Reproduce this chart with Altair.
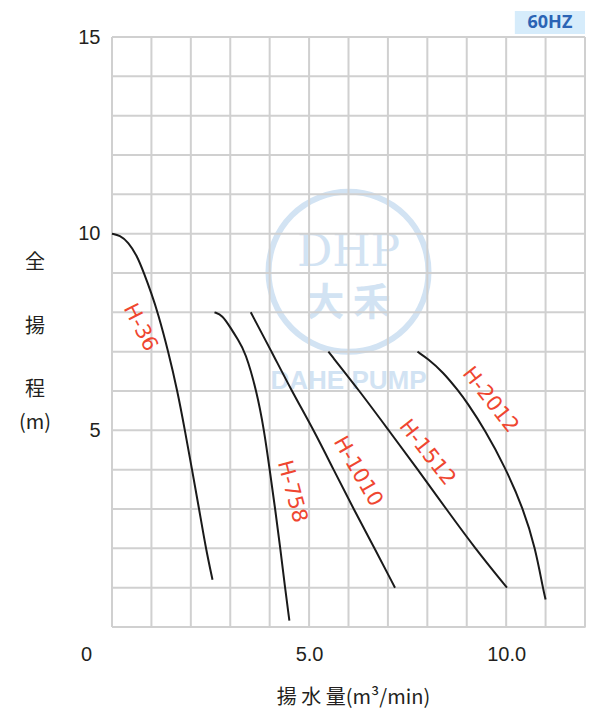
import altair as alt
import pandas as pd

# ---- data ----
h36_x = [0.0, 0.2, 0.41, 0.63, 0.81, 1.0, 1.16, 1.43, 1.66, 1.85, 2.03, 2.21, 2.38, 2.55]
h36_y = [10.0, 9.96, 9.79, 9.45, 9.0, 8.48, 8.0, 7.0, 6.0, 5.0, 4.0, 3.0, 2.0, 1.2]

h758_x = [2.6, 2.8, 3.0, 3.2, 3.38, 3.67, 3.86, 4.0, 4.14, 4.27, 4.39, 4.5]
h758_y = [8.0, 7.93, 7.62, 7.3, 7.0, 6.0, 5.0, 4.0, 3.0, 2.0, 1.0, 0.16]

h1010_x = [3.52, 4.05, 4.56, 5.12, 5.62, 6.13, 6.66, 7.18]
h1010_y = [8.0, 7.0, 6.0, 5.0, 4.0, 3.0, 2.0, 1.0]

h1512_x = [5.49, 6.28, 7.02, 7.76, 8.48, 9.21, 10.02]
h1512_y = [7.0, 6.0, 5.0, 4.0, 3.0, 2.0, 1.0]

h2012_x = [7.75, 8.0, 8.4, 8.79, 9.0, 9.47, 9.97, 10.44, 10.74, 10.93, 11.0]
h2012_y = [7.0, 6.83, 6.48, 6.0, 5.72, 5.0, 4.07, 3.0, 2.0, 1.0, 0.7]

label_names = ["H-36", "H-758", "H-1010", "H-1512", "H-2012"]
label_x = [0.71, 4.56, 6.23, 7.99, 9.59]
label_y = [7.61, 3.44, 3.95, 4.43, 5.77]
label_angle = [63, 75, 60, 52, 52]

grid_x = list(range(0, 13))
grid_y = list(range(0, 16))
x_ticks = [0, 5, 10]
y_ticks = [5, 10, 15]

y_title_parts = ["全", "揚", "程", "(m)"]
y_title_pos = [9.25, 7.63, 6.03, 5.19]

hz_text = "60HZ"
hz_x0, hz_x1 = 10.22, 12.0

# ---- tables ----
curves = pd.concat([
    pd.DataFrame({"model": "H-36", "x": h36_x, "y": h36_y}),
    pd.DataFrame({"model": "H-758", "x": h758_x, "y": h758_y}),
    pd.DataFrame({"model": "H-1010", "x": h1010_x, "y": h1010_y}),
    pd.DataFrame({"model": "H-1512", "x": h1512_x, "y": h1512_y}),
    pd.DataFrame({"model": "H-2012", "x": h2012_x, "y": h2012_y}),
], ignore_index=True)
labels = pd.DataFrame({"name": label_names, "x": label_x, "y": label_y, "angle": label_angle})
gx = pd.DataFrame({"x": grid_x})
gy = pd.DataFrame({"y": grid_y})
ytitle = pd.DataFrame({"t": y_title_parts, "y": y_title_pos})
wm = pd.DataFrame({"x": [6.0], "y": [9.03], "y_dhp": [9.5], "y_cn": [8.2], "y_en": [6.25]})
hz = pd.DataFrame({"x0": [hz_x0], "x1": [hz_x1], "xm": [(hz_x0 + hz_x1) / 2], "t": [hz_text]})

xs = alt.Scale(domain=[0, 12], nice=False, zero=False)
ys = alt.Scale(domain=[0, 15], nice=False, zero=False)

xaxis = alt.Axis(
    values=x_ticks, grid=False, domain=False, ticks=False,
    labelExpr="datum.value == 0 ? '0' : format(datum.value, '.1f')",
    labelOffset=alt.condition("datum.value == 0", alt.value(-26), alt.value(0)),
    labelFont="Liberation Sans", labelFontSize=20, labelColor="#231f20",
    labelPadding=17, labelFlush=False,
    title="揚 水 量(m³/min)", titleFont="Noto Sans CJK JP", titleFontSize=20,
    titleFontWeight="normal", titleColor="#231f20",
    titleX=241, titleY=70, titleBaseline="middle", titleAlign="center",
)
yaxis = alt.Axis(
    values=y_ticks, grid=False, domain=False, ticks=False,
    labelFont="Liberation Sans", labelFontSize=20, labelColor="#231f20",
    labelPadding=12, labelFlush=False, title="",
)

wm_color = "#d2e3f3"
ring = alt.Chart(wm).mark_point(shape="circle", filled=False, size=25600, strokeWidth=6,
                                color=wm_color, opacity=1).encode(
    x=alt.X("x:Q", scale=xs, axis=xaxis), y=alt.Y("y:Q", scale=ys, axis=yaxis))
dhp = alt.Chart(wm).mark_text(text="DHP", font="DejaVu Serif", fontSize=44, color=wm_color,
                              baseline="middle").encode(
    x=alt.X("x:Q", scale=xs, axis=xaxis), y=alt.Y("y_dhp:Q", scale=ys, axis=yaxis))
cn = alt.Chart(wm).mark_text(text="大 禾", font="Noto Sans CJK SC", fontSize=38, color=wm_color,
                             baseline="middle", fontWeight="bold").encode(
    x=alt.X("x:Q", scale=xs, axis=xaxis), y=alt.Y("y_cn:Q", scale=ys, axis=yaxis))
en = alt.Chart(wm).mark_text(text="DAHE PUMP", font="Liberation Sans", fontSize=26, color=wm_color,
                             baseline="middle", fontWeight="bold").encode(
    x=alt.X("x:Q", scale=xs, axis=xaxis), y=alt.Y("y_en:Q", scale=ys, axis=yaxis))

grid_color = "#d0d0d0"
vgrid = alt.Chart(gx).mark_rule(color=grid_color, strokeWidth=2).encode(
    x=alt.X("x:Q", scale=xs, axis=xaxis))
hgrid = alt.Chart(gy).mark_rule(color=grid_color, strokeWidth=2).encode(
    y=alt.Y("y:Q", scale=ys, axis=yaxis))

lines = alt.Chart(curves).mark_line(color="#1a1a1a", strokeWidth=2, interpolate="basis").encode(
    x=alt.X("x:Q", scale=xs, axis=xaxis), y=alt.Y("y:Q", scale=ys, axis=yaxis),
    detail="model:N")

names = alt.Chart(labels).mark_text(font="DejaVu Sans", fontSize=21, color="#ef4630",
                                    baseline="middle", align="center").encode(
    x=alt.X("x:Q", scale=xs, axis=xaxis), y=alt.Y("y:Q", scale=ys, axis=yaxis),
    text="name:N", angle=alt.Angle("angle:Q", scale=None))

ytitle_marks = alt.Chart(ytitle).mark_text(font="Noto Sans CJK JP", fontSize=20, color="#231f20",
                                           baseline="middle", align="center").encode(
    x=alt.value(-77), y=alt.Y("y:Q", scale=ys, axis=yaxis), text="t:N")

hzbox = alt.Chart(hz).mark_rect(color="#d6ecfb").encode(
    x=alt.X("x0:Q", scale=xs, axis=xaxis), x2="x1:Q",
    y=alt.value(-26), y2=alt.value(-3))
hzlabel = alt.Chart(hz).mark_text(font="Noto Sans", fontSize=18, fontWeight="bold", color="#2b64b5",
                                  baseline="middle").encode(
    x=alt.X("xm:Q", scale=xs, axis=xaxis), y=alt.value(-14), text="t:N")

chart = alt.layer(ring, dhp, cn, en, vgrid, hgrid, lines, names, ytitle_marks, hzbox, hzlabel).properties(
    width=473, height=590,
    autosize=alt.AutoSizeParams(type="none"),
    padding={"left": 112, "top": 37, "right": 17, "bottom": 98},
).configure_view(stroke=None).configure(background="white")

chart.save("out.html", embed_options={"renderer": "svg", "actions": False})
